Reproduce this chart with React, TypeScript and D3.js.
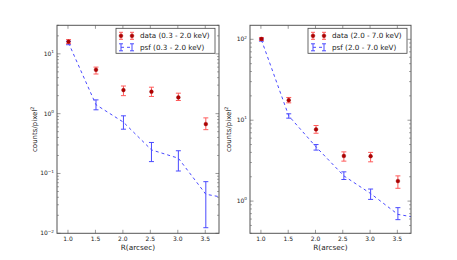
import React from "react";
import * as d3 from "d3";

const xTicks = [1.0, 1.5, 2.0, 2.5, 3.0, 3.5];

// Left panel (0.3 - 2.0 keV)
const leftX = [1.01, 1.51, 2.01, 2.52, 3.01, 3.51];
const leftData = [16.0, 5.4, 2.48, 2.33, 1.87, 0.67];
const leftDataLo = [14.8, 4.6, 2.0, 1.94, 1.66, 0.54];
const leftDataHi = [17.3, 6.0, 2.9, 2.77, 2.2, 0.85];
const leftPsfX = [1.01, 1.51, 2.01, 2.52, 3.01, 3.51, 4.01];
const leftPsf = [15.2, 1.41, 0.72, 0.248, 0.18, 0.045, 0.037];
const leftPsfLo = [14.2, 1.16, 0.55, 0.158, 0.11, 0.0124, 0.03];
const leftPsfHi = [16.2, 1.7, 0.92, 0.33, 0.24, 0.073, 0.045];
const leftYTicks = [-2, -1, 0, 1];

// Right panel (2.0 - 7.0 keV)
const rightX = [1.01, 1.51, 2.01, 2.52, 3.01, 3.51];
const rightData = [101, 17.7, 7.7, 3.62, 3.59, 1.77];
const rightDataLo = [97, 16.4, 6.9, 3.12, 3.06, 1.44];
const rightDataHi = [105, 19.1, 8.6, 4.06, 4.0, 2.05];
const rightPsfX = [1.01, 1.51, 2.01, 2.52, 3.01, 3.51, 4.01];
const rightPsf = [98, 11.3, 4.68, 2.05, 1.24, 0.685, 0.6];
const rightPsfLo = [95, 10.6, 4.27, 1.85, 1.05, 0.59, 0.55];
const rightPsfHi = [101, 12.0, 5.0, 2.3, 1.41, 0.83, 0.65];
const rightYTicks = [0, 1, 2];

const FONT = "DejaVu Sans, sans-serif";
const RED = "#ff5a5a";
const DARKRED = "#b00000";
const BLUE = "#4a4aff";
const SPINE = "#555";

type PanelProps = {
  left: number;
  right: number;
  top: number;
  bottom: number;
  yDomain: [number, number];
  yTicks: number[];
  xs: number[];
  data: number[];
  dLo: number[];
  dHi: number[];
  psfX: number[];
  psf: number[];
  pLo: number[];
  pHi: number[];
  label: string;
  ylabelX: number;
  clipId: string;
};

function ErrBar(props: { cx: number; y1: number; y2: number; color: string; cap: number }) {
  const { cx, y1, y2, color, cap } = props;
  return (
    <g>
      <line x1={cx} x2={cx} y1={y1} y2={y2} stroke={color} strokeWidth={1} />
      <line x1={cx - cap} x2={cx + cap} y1={y1} y2={y1} stroke={color} strokeWidth={1} />
      <line x1={cx - cap} x2={cx + cap} y1={y2} y2={y2} stroke={color} strokeWidth={1} />
    </g>
  );
}

function Panel(p: PanelProps) {
  const x = d3.scaleLinear().domain([0.8, 3.75]).range([p.left, p.right]);
  const y = d3.scaleLog().domain(p.yDomain).range([p.bottom, p.top]);
  const line = d3
    .line<number>()
    .x((_, i) => x(p.psfX[i]))
    .y((d) => y(d));

  const minor: number[] = [];
  const lo = Math.floor(Math.log10(p.yDomain[0]));
  const hi = Math.ceil(Math.log10(p.yDomain[1]));
  for (let e = lo; e <= hi; e++) {
    for (let m = 2; m <= 9; m++) {
      const v = m * Math.pow(10, e);
      if (v >= p.yDomain[0] && v <= p.yDomain[1]) minor.push(v);
    }
  }
  const cap = 2.5;
  const legTop = p.top + 3;
  const legW = 99;
  const legLeft = p.right - 4 - legW;

  return (
    <g fontFamily={FONT}>
      <defs>
        <clipPath id={p.clipId}>
          <rect x={p.left} y={p.top} width={p.right - p.left} height={p.bottom - p.top} />
        </clipPath>
      </defs>
      <g clipPath={`url(#${p.clipId})`}>
        <path d={line(p.psf) || ""} fill="none" stroke={BLUE} strokeWidth={1} strokeDasharray="3,3" />
        {p.psf.map((v, i) => (
          <ErrBar key={"p" + i} cx={x(p.psfX[i])} y1={y(p.pLo[i])} y2={y(p.pHi[i])} color={BLUE} cap={cap} />
        ))}
        {p.data.map((v, i) => (
          <g key={"d" + i}>
            <ErrBar cx={x(p.xs[i])} y1={y(p.dLo[i])} y2={y(p.dHi[i])} color={RED} cap={cap} />
            <circle cx={x(p.xs[i])} cy={y(v)} r={1.9} fill={DARKRED} stroke="#900000" strokeWidth={0.4} />
          </g>
        ))}
      </g>
      {/* spines */}
      <rect x={p.left} y={p.top} width={p.right - p.left} height={p.bottom - p.top} fill="none" stroke={SPINE} strokeWidth={1} />
      {/* x ticks */}
      {xTicks.map((t) => (
        <g key={"x" + t}>
          <line x1={x(t)} x2={x(t)} y1={p.bottom} y2={p.bottom - 3.5} stroke={SPINE} strokeWidth={0.6} />
          <line x1={x(t)} x2={x(t)} y1={p.top} y2={p.top + 3.5} stroke={SPINE} strokeWidth={0.6} />
          <text x={x(t)} y={p.bottom + 7.5} fontSize={6} textAnchor="middle" fill="#222">
            {t.toFixed(1)}
          </text>
        </g>
      ))}
      {/* y ticks */}
      {p.yTicks.map((e) => (
        <g key={"y" + e}>
          <line x1={p.left} x2={p.left + 3.5} y1={y(Math.pow(10, e))} y2={y(Math.pow(10, e))} stroke={SPINE} strokeWidth={0.6} />
          <line x1={p.right} x2={p.right - 3.5} y1={y(Math.pow(10, e))} y2={y(Math.pow(10, e))} stroke={SPINE} strokeWidth={0.6} />
          <text x={p.left - 3} y={y(Math.pow(10, e)) + 2} fontSize={6} textAnchor="end" fill="#222">
            10
            <tspan fontSize={4.2} dy={-2.8}>
              {e < 0 ? "\u2212" + Math.abs(e) : String(e)}
            </tspan>
          </text>
        </g>
      ))}
      {minor.map((v, i) => (
        <g key={"m" + i}>
          <line x1={p.left} x2={p.left + 2} y1={y(v)} y2={y(v)} stroke={SPINE} strokeWidth={0.5} />
          <line x1={p.right} x2={p.right - 2} y1={y(v)} y2={y(v)} stroke={SPINE} strokeWidth={0.5} />
        </g>
      ))}
      {/* labels */}
      <text x={(p.left + p.right) / 2} y={p.bottom + 17} fontSize={7.3} textAnchor="middle" fill="#222">
        R(arcsec)
      </text>
      <text
        transform={`translate(${p.ylabelX},${(p.top + p.bottom) / 2}) rotate(-90)`}
        fontSize={7}
        textAnchor="middle"
        fill="#222"
      >
        counts/pixel
        <tspan fontSize={4.8} dy={-2.6}>2</tspan>
      </text>
      {/* legend */}
      <g>
        <rect x={legLeft} y={legTop} width={legW} height={25} fill="#fff" stroke="#444" strokeWidth={0.8} />
        {[legLeft + 5, legLeft + 16].map((cx, i) => (
          <g key={"ld" + i}>
            <ErrBar cx={cx} y1={legTop + 4} y2={legTop + 11} color={RED} cap={2} />
            <circle cx={cx} cy={legTop + 7.5} r={1.9} fill={DARKRED} stroke="#900000" strokeWidth={0.4} />
          </g>
        ))}
        <line x1={legLeft + 5} x2={legLeft + 16} y1={legTop + 19} y2={legTop + 19} stroke={BLUE} strokeWidth={1} strokeDasharray="3,3" />
        {[legLeft + 5, legLeft + 16].map((cx, i) => (
          <ErrBar key={"lp" + i} cx={cx} y1={legTop + 15.5} y2={legTop + 22.5} color={BLUE} cap={2} />
        ))}
        <text x={legLeft + 24} y={legTop + 10} fontSize={7.2} fill="#222">
          data ({p.label})
        </text>
        <text x={legLeft + 24} y={legTop + 21.5} fontSize={7.2} fill="#222">
          psf ({p.label})
        </text>
      </g>
    </g>
  );
}

export default function App() {
  return (
    <svg
      width={457}
      height={260}
      style={{ position: "absolute", left: 0, top: 0, background: "#fff" }}
    >
      <Panel
        left={57}
        right={219}
        top={25.3}
        bottom={233.3}
        yDomain={[0.01, 30]}
        yTicks={leftYTicks}
        xs={leftX}
        data={leftData}
        dLo={leftDataLo}
        dHi={leftDataHi}
        psfX={leftPsfX}
        psf={leftPsf}
        pLo={leftPsfLo}
        pHi={leftPsfHi}
        label="0.3 - 2.0 keV"
        ylabelX={37}
        clipId="clipL"
      />
      <Panel
        left={250}
        right={411}
        top={25.3}
        bottom={233.3}
        yDomain={[0.4, 149]}
        yTicks={rightYTicks}
        xs={rightX}
        data={rightData}
        dLo={rightDataLo}
        dHi={rightDataHi}
        psfX={rightPsfX}
        psf={rightPsf}
        pLo={rightPsfLo}
        pHi={rightPsfHi}
        label="2.0 - 7.0 keV"
        ylabelX={231}
        clipId="clipR"
      />
    </svg>
  );
}
